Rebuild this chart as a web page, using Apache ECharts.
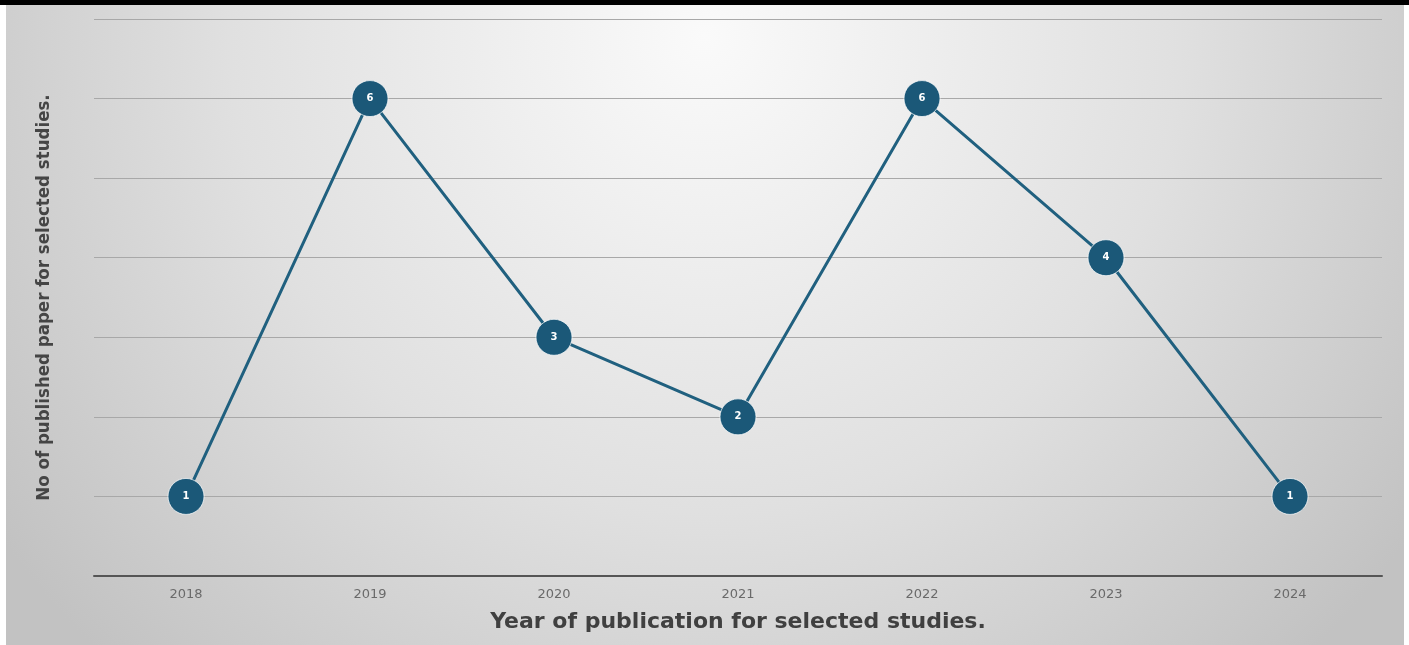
<!DOCTYPE html>
<html>
<head>
<meta charset="utf-8">
<script src="https://cdn.jsdelivr.net/npm/echarts@6/dist/echarts.min.js"></script>
<style>
  html, body { margin: 0; padding: 0; background: #fff; }
  #frame { position: relative; width: 1409px; height: 645px; background: #fff; border-top: 5px solid #000; box-sizing: border-box; }
  #chart { position: absolute; left: 6px; top: 0; width: 1398px; height: 640px; }
</style>
</head>
<body>
<div id="frame"><div id="chart"></div></div>
<script>
// data
var years = ['2018', '2019', '2020', '2021', '2022', '2023', '2024'];
var papers = [1, 6, 3, 2, 6, 4, 1];
var xTitle = 'Year of publication for selected studies.';
var yTitle = 'No of published paper for selected studies.';

var lineColor = '#20607f';

var chart = echarts.init(document.getElementById('chart'));
chart.setOption({
  backgroundColor: {
    type: 'radial', x: 0.5, y: 0.05, r: 1.35,
    colorStops: [
      { offset: 0, color: '#fafafa' },
      { offset: 0.55, color: '#e0e0e0' },
      { offset: 1, color: '#c2c2c2' }
    ]
  },
  animation: false,
  grid: { left: 88, right: 22, top: 14, bottom: 69 },
  xAxis: {
    type: 'category',
    data: years,
    boundaryGap: true,
    name: xTitle,
    nameLocation: 'middle',
    nameGap: 35,
    nameTextStyle: { fontFamily: 'DejaVu Sans', fontWeight: 'bold', fontSize: 22, color: '#404040' },
    axisLine: { lineStyle: { color: '#555', width: 2 } },
    axisTick: { show: false },
    axisLabel: { margin: 12, fontFamily: 'DejaVu Sans', fontSize: 13, color: '#6a6a6a' }
  },
  yAxis: {
    type: 'value',
    min: 0, max: 7, interval: 1,
    name: yTitle,
    nameLocation: 'middle',
    nameGap: 40,
    nameTextStyle: { fontFamily: 'DejaVu Sans Condensed', fontWeight: 'bold', fontSize: 18.5, color: '#454545' },
    axisLine: { show: false },
    axisTick: { show: false },
    axisLabel: { show: false },
    splitLine: { lineStyle: { color: '#a8a8a8', width: 1 } }
  },
  series: [{
    type: 'line',
    data: papers,
    symbol: 'circle',
    symbolSize: 36,
    lineStyle: { color: lineColor, width: 3 },
    itemStyle: { color: '#1b5878', borderColor: 'rgba(255,255,255,0.7)', borderWidth: 1 },
    label: { show: true, position: 'inside', color: '#fff', fontFamily: 'DejaVu Sans', fontWeight: 'bold', fontSize: 10 },
    z: 3
  }]
});
</script>
</body>
</html>
